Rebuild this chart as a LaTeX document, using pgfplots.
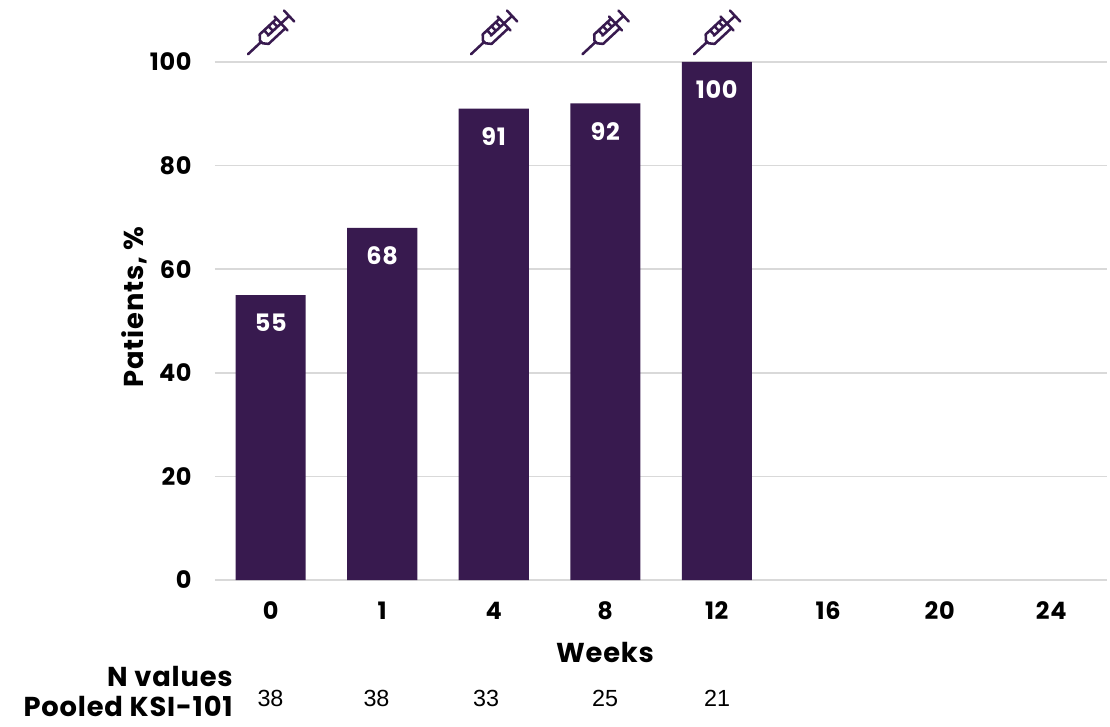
\documentclass[border=0pt]{standalone}
\usepackage{fontspec}
\setmainfont{Poppins}[LetterSpace=3]
\newfontfamily\lib{Liberation Sans}
\usepackage{pgfplots}
\pgfplotsset{compat=1.18}
\definecolor{bar}{HTML}{381A4F}
\definecolor{gridc}{HTML}{D9D9D9}
\pgfdeclareplotmark{syringe}{%
  \pgftransformrotate{43}%
  \draw[x=0.75pt,y=0.75pt,bar,line width=1.9pt,line cap=round,line join=round,fill=none]
    (-31,0) -- (-13,0)
    (-13,-2) -- (-9,-6.5) -- (14,-6.5) -- (14,6.5) -- (-9,6.5) -- (-13,2) -- cycle
    (14,-9.5) -- (14,9.5)
    (14,0) -- (25,0)
    (25,-7.5) -- (25,7.5)
    (-3,0) -- (-3,6) (3,0) -- (3,6) (9,0) -- (9,6) (-4,0) -- (14,0);
}
\begin{document}
\begin{tikzpicture}
\useasboundingbox (-161.25pt,-109.5pt) rectangle (671.25pt,435pt);
\begin{axis}[
  at={(0,0)},anchor=south west,
  scale only axis,width=669pt,height=388.5pt,
  xmin=-0.5,xmax=7.5,ymin=0,ymax=100,
  clip=false,
  axis line style={draw=none},
  axis x line*=bottom,axis y line*=left,
  major tick length=0pt,
  xtick={0,1,2,3,4,5,6,7},
  xticklabels={0,1,4,8,12,16,20,24},
  ytick={0,20,40,60,80,100},
  ymajorgrids,
  grid style={gridc,line width=1.1pt},
  tick label style={font=\fontsize{18}{20}\selectfont\bfseries,text=black},
  /pgf/number format/assume math mode=true,
  xticklabel style={yshift=-13pt},
  yticklabel style={xshift=-14pt},
  axis on top=false,
]
\addplot[draw=none,fill=bar,ybar,bar width=52.5pt,
  nodes near coords,
  point meta=y,
  every node near coord/.style={anchor=center,yshift=-21pt,text=white,font=\fontsize{18}{20}\selectfont\bfseries},
  nodes near coords style={/pgf/number format/assume math mode=true},
] coordinates {(0,55) (1,68) (2,91) (3,92) (4,100)};
\addplot[only marks,mark=syringe,bar] coordinates {(0,105.6) (2,105.6) (3,105.6) (4,105.6)};
\end{axis}
\begin{scope}[x=0.75pt,y=-0.75pt,shift={(-215,-580)}]
\node[font=\fontsize{20.5}{22}\selectfont\bfseries] at (605,652) {Weeks};
\node[font=\fontsize{20.5}{22}\selectfont\bfseries,rotate=90] at (134,307) {Patients, \%};
\node[font=\fontsize{20.5}{22}\selectfont\bfseries,anchor=base east,inner sep=0pt] at (233,686) {N values};
\node[font=\fontsize{20.5}{22}\selectfont\bfseries,anchor=base east,inner sep=0pt] at (233,716) {Pooled KSI-101};
\foreach \x/\t in {270.5/38,376.5/38,486/33,605/25,717/21}
  \node[font=\lib\fontsize{17.5}{20}\selectfont] at (\x,698) {\t};
\end{scope}
\end{tikzpicture}
\end{document}
